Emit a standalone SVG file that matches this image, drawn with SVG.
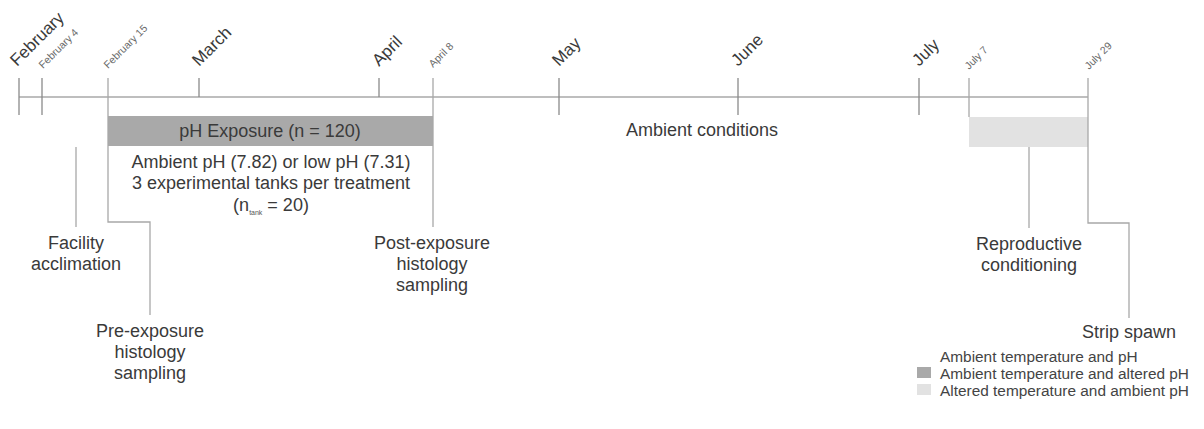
<svg xmlns="http://www.w3.org/2000/svg" width="1204" height="429" viewBox="0 0 1204 429">
<style>
.t{font-family:"Liberation Sans",Arial,sans-serif;fill:#3a3a3a;font-size:18px;text-anchor:middle}
.m{font-family:"Liberation Sans",Arial,sans-serif;fill:#3a3a3a;font-size:17px}
.s{font-family:"Liberation Sans",Arial,sans-serif;fill:#6a6a6a;font-size:10.5px}
.lg{font-family:"Liberation Sans",Arial,sans-serif;fill:#444;font-size:15.4px}
.ln{stroke:#a8a8a8;stroke-width:1.3;fill:none}
.tk{stroke:#8a8a8a;stroke-width:1.3;fill:none}
</style>
<rect width="1204" height="429" fill="#fff"/>
<g id="boxes">
<g id="ph-exposure">
<rect x="108" y="116" width="325" height="30" fill="#a9a9a9"/>
<text class="t" x="270" y="137">pH Exposure (n = 120)</text>
<text class="t" x="271" y="168">Ambient pH (7.82) or low pH (7.31)</text>
<text class="t" x="271" y="189">3 experimental tanks per treatment</text>
<text class="t" x="271" y="211">(n<tspan font-size="7" dy="4" fill="#555">tank</tspan><tspan dy="-4"> = 20)</tspan></text>
</g>
<g id="ambient-conditions">
<text class="t" x="702" y="136">Ambient conditions</text>
</g>
<g id="reproductive-box">
<rect x="969" y="117" width="119" height="30" fill="#e2e2e2"/>
</g>
</g>
<g id="connectors">
<line class="ln" x1="19" y1="97" x2="1088" y2="97"/>
<line class="tk" x1="19" y1="78" x2="19" y2="115"/>
<line class="tk" x1="42" y1="78" x2="42" y2="115"/>
<polyline class="ln" points="108,78 108,222 150,222 150,315"/>
<line class="tk" x1="199" y1="78" x2="199" y2="97"/>
<line class="tk" x1="379" y1="78" x2="379" y2="97"/>
<line class="ln" x1="433" y1="78" x2="433" y2="227"/>
<line class="tk" x1="559" y1="78" x2="559" y2="115"/>
<line class="tk" x1="738" y1="78" x2="738" y2="115"/>
<line class="tk" x1="919" y1="78" x2="919" y2="115"/>
<line class="ln" x1="969" y1="78" x2="969" y2="117"/>
<polyline class="ln" points="1088,78 1088,223 1129,223 1129,318"/>
<line class="ln" x1="76" y1="147" x2="76" y2="227"/>
<line class="ln" x1="1029" y1="147" x2="1029" y2="228"/>
</g>
<g id="months">
<text class="m" x="17" y="67" transform="rotate(-45 17 67)">February</text>
<text class="m" x="199" y="67" transform="rotate(-45 199 67)">March</text>
<text class="m" x="379" y="67" transform="rotate(-45 379 67)">April</text>
<text class="m" x="559" y="67" transform="rotate(-45 559 67)">May</text>
<text class="m" x="738" y="67" transform="rotate(-45 738 67)">June</text>
<text class="m" x="919" y="67" transform="rotate(-45 919 67)">July</text>
</g>
<g id="dates">
<text class="s" x="43" y="69" transform="rotate(-45 43 69)">February 4</text>
<text class="s" x="108" y="69" transform="rotate(-45 108 69)">February 15</text>
<text class="s" x="433" y="68" transform="rotate(-45 433 68)">April 8</text>
<text class="s" x="969" y="70" transform="rotate(-45 969 70)">July 7</text>
<text class="s" x="1089" y="70" transform="rotate(-45 1089 70)">July 29</text>
</g>
<g id="facility">
<text class="t" x="76" y="249">Facility</text>
<text class="t" x="76" y="270">acclimation</text>
</g>
<g id="pre-exposure">
<text class="t" x="150" y="337">Pre-exposure</text>
<text class="t" x="150" y="358">histology</text>
<text class="t" x="150" y="379">sampling</text>
</g>
<g id="post-exposure">
<text class="t" x="432" y="249">Post-exposure</text>
<text class="t" x="432" y="270">histology</text>
<text class="t" x="432" y="291">sampling</text>
</g>
<g id="reproductive">
<text class="t" x="1029" y="250">Reproductive</text>
<text class="t" x="1029" y="271">conditioning</text>
</g>
<g id="strip-spawn">
<text class="t" x="1129" y="338">Strip spawn</text>
</g>
<g id="legend">
<text class="lg" x="940" y="362">Ambient temperature and pH</text>
<rect x="917" y="367" width="14" height="11" fill="#a9a9a9"/>
<text class="lg" x="940" y="379">Ambient temperature and altered pH</text>
<rect x="917" y="384" width="14" height="11" fill="#e2e2e2"/>
<text class="lg" x="940" y="396">Altered temperature and ambient pH</text>
</g>
</svg>
